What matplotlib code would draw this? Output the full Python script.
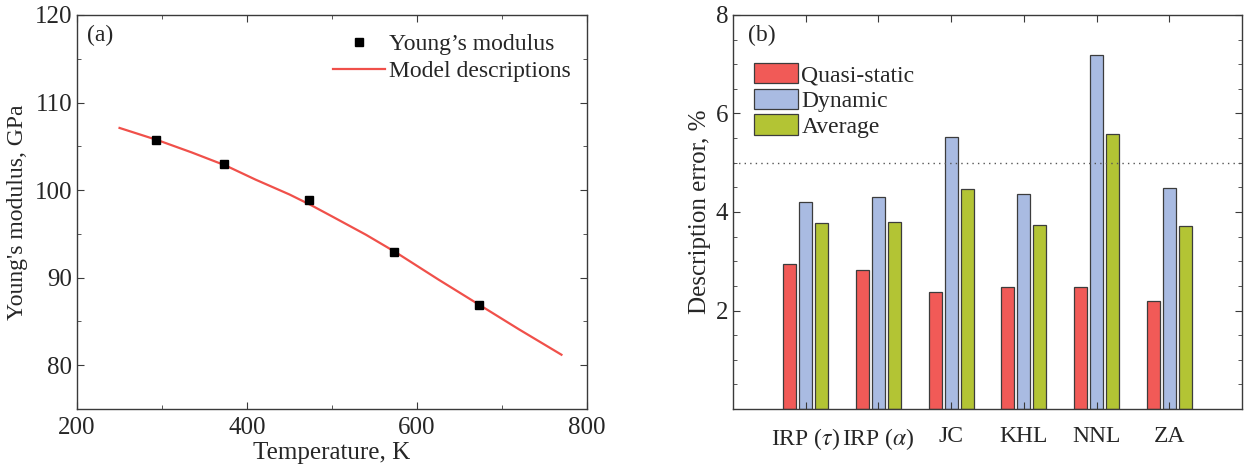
import numpy as np
import matplotlib
matplotlib.use("Agg")
import matplotlib.pyplot as plt

# panel (a): Young's modulus vs temperature
temp_exp = [293, 373, 473, 573, 673]
modulus_exp = [105.7, 103.0, 98.9, 92.9, 86.9]

temp_model = [250, 295, 335, 375, 410, 450, 475, 500, 540, 575, 625, 675, 720, 770]
modulus_model = [107.1, 105.7, 104.3, 102.8, 101.2, 99.5, 98.3, 97.0, 94.9, 92.9, 89.8, 86.8, 84.1, 81.2]

# panel (b): description error per model
models = [r"IRP ($\tau$)", r"IRP ($\alpha$)", "JC", "KHL", "NNL", "ZA"]
err_quasi = [2.94, 2.82, 2.38, 2.48, 2.48, 2.19]
err_dynamic = [4.20, 4.30, 5.53, 4.37, 7.18, 4.49]
err_average = [3.77, 3.80, 4.47, 3.74, 5.59, 3.72]

plt.rcParams["font.family"] = ["Liberation Serif", "DejaVu Serif"]
plt.rcParams["mathtext.fontset"] = "stix"
plt.rcParams["font.size"] = 17
text_color = "#262626"
spine_color = "#3a3a3a"

fig = plt.figure(figsize=(12.59, 4.73), dpi=100)
ax1 = fig.add_axes([0.0612, 0.1353, 0.405, 0.833])
ax2 = fig.add_axes([0.5822, 0.1353, 0.4043, 0.833])

for ax in (ax1, ax2):
    ax.tick_params(direction="in", which="both", top=True, right=True,
                   colors=spine_color, labelcolor=text_color, labelsize=18)
    ax.tick_params(which="major", length=5)
    ax.tick_params(which="minor", length=3)
    for sp in ax.spines.values():
        sp.set_color(spine_color)
        sp.set_linewidth(1.0)

# (a)
ax1.plot(temp_model, modulus_model, color="#f0504a", lw=1.6, label="Model descriptions")
ax1.plot(temp_exp, modulus_exp, "s", color="black", ms=6, label="Young\u2019s modulus")
ax1.set_xlim(200, 800)
ax1.set_ylim(75, 120)
ax1.set_xticks([200, 400, 600, 800])
ax1.set_xticks([300, 500, 700], minor=True)
ax1.set_yticks([80, 90, 100, 110, 120])
ax1.set_yticks([75, 85, 95, 105, 115], minor=True)
ax1.tick_params(axis="x", which="major", pad=6)
ax1.set_xlabel("Temperature, K", fontsize=18, color=text_color, labelpad=2)
ax1.set_ylabel("Young's modulus, GPa", fontsize=17, color=text_color, labelpad=5)
ax1.text(0.02, 0.975, "(a)", transform=ax1.transAxes, ha="left", va="top",
         fontsize=17, color=text_color)
h, l = ax1.get_legend_handles_labels()
ax1.legend(h[::-1], l[::-1], loc="upper right", frameon=False, fontsize=17,
           bbox_to_anchor=(1.0, 0.995), handlelength=2.2, handletextpad=0.15,
           labelspacing=0.25, borderaxespad=0.3, labelcolor=text_color)

# (b)
x = np.arange(1, len(models) + 1)
w = 0.18
step = 0.22
kw = dict(edgecolor="#3c3c3c", linewidth=0.9)
ax2.bar(x - step, err_quasi, w, color="#f15a57", label="Quasi-static", **kw)
ax2.bar(x, err_dynamic, w, color="#a9bbe2", label="Dynamic", **kw)
ax2.bar(x + step, err_average, w, color="#b3c434", label="Average", **kw)
ax2.axhline(5.0, color="#555555", lw=1.0, ls=(0, (1, 3)))
ax2.set_xlim(0, 7)
ax2.set_ylim(0, 8)
ax2.set_xticks(x)
ax2.set_xticklabels(models, fontsize=17)
ax2.tick_params(axis="x", which="major", pad=12)
ax2.set_yticks([2, 4, 6, 8])
ax2.set_yticks(np.arange(0.5, 8, 0.5), minor=True)
ax2.set_ylabel("Description error, %", fontsize=18, color=text_color, labelpad=3)
ax2.text(0.03, 0.975, "(b)", transform=ax2.transAxes, ha="left", va="top",
         fontsize=17, color=text_color)
ax2.legend(loc="upper left", bbox_to_anchor=(0.008, 0.92), frameon=False, fontsize=17,
           handlelength=1.9, handleheight=0.95, handletextpad=0.12,
           labelspacing=0.1, borderaxespad=0.3, labelcolor=text_color)

fig.savefig("out.png", dpi=100)
